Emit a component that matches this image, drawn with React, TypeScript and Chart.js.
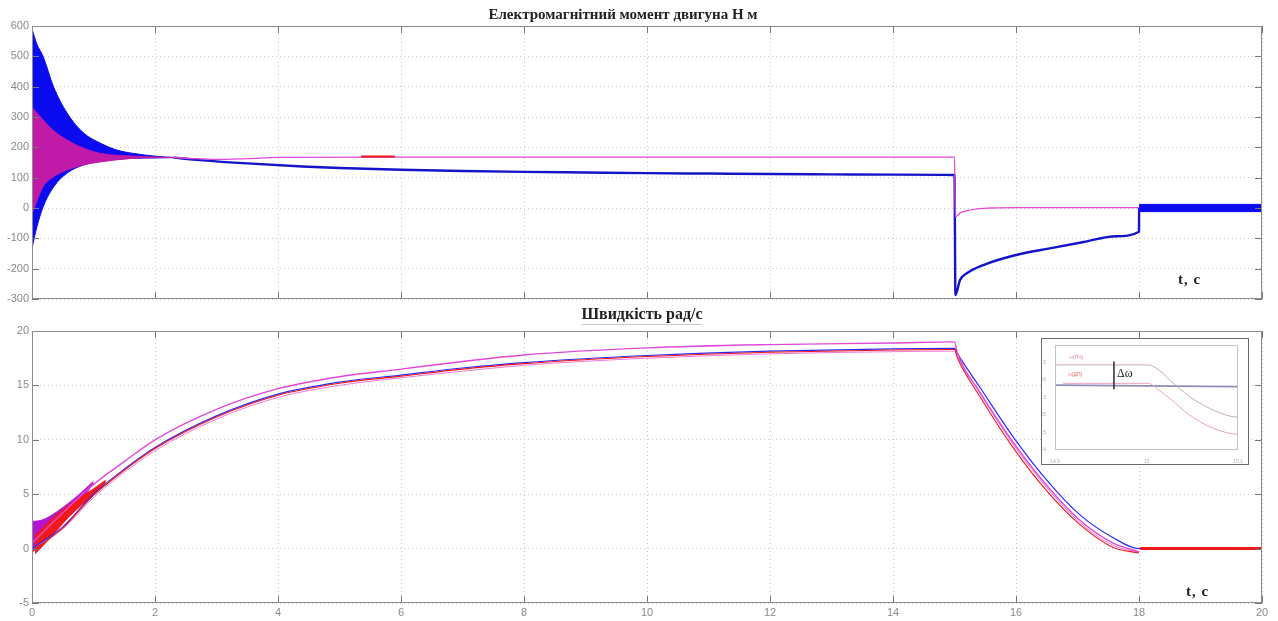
import React, { useEffect, useRef } from "react";
import { Chart, registerables } from "chart.js";
Chart.register(...registerables);

// ---------- Top plot: electromagnetic torque ----------
const torqueTitle = "Електромагнітний момент двигуна Н м";
const speedTitle = "Швидкість рад/с";
const axisLabelT = "t, с";

// blue start-up oscillation envelope
const blueEnvT = [0, 0.08, 0.18, 0.35, 0.57, 0.84, 1.11, 1.38, 1.65, 2.0, 2.3];
const blueEnvUpper = [590, 540, 500, 400, 313, 247, 214, 191, 180, 171, 166];
const blueEnvLower = [-133, -62, 3, 69, 115, 142, 156, 161, 164, 165, 166];
// magenta start-up oscillation envelope
const magEnvT = [0, 0.18, 0.35, 0.57, 0.84, 1.11, 1.65, 2.0, 2.3];
const magEnvUpper = [333, 290, 255, 224, 197, 180, 171, 168, 167];
const magEnvLower = [-20, 70, 103, 125, 142, 152, 164, 166, 167];
// blue torque after start-up
const blueT = [2.3, 2.73, 3.5, 4.4, 5, 6, 7, 8, 9, 10, 11, 12, 13, 14, 15, 15.015, 15.09, 15.2, 15.47, 16.0, 16.55, 17.1, 17.63, 18.0, 18.002];
const blueM = [166, 158, 147, 137, 132, 126, 122, 119, 117, 115, 113.5, 112, 111, 110, 109, -287, -237, -215, -188, -155, -133, -112, -93, -78, 0];
// blue band after t = 18
const blueBandT = [18.002, 20];
const blueBandUpper = [12, 12];
const blueBandLower = [-12, -12];
// magenta torque after start-up
const magT = [2.3, 2.6, 3.0, 3.5, 4, 6, 10, 14, 15, 15.015, 15.1, 15.2, 15.4, 15.6, 16, 18, 20];
const magM = [167, 163, 160, 163, 167, 168, 168, 168, 168, -29, -15, -9, -2, 0, 1, 1, 1];
// short red trace
const redSegT = [5.35, 5.9];
const redSegM = [170, 170];

// ---------- Bottom plot: speed ----------
const riseT = [0, 0.5, 1, 1.5, 2, 3, 4, 5, 6, 7, 8, 10, 12, 14, 15];
const pinkUpRise = [0.5, 3.3, 5.9, 8.0, 10.0, 12.8, 14.7, 15.8, 16.5, 17.2, 17.8, 18.45, 18.75, 18.9, 19.0];
const blueRise = [0, 2.0, 5.0, 7.3, 9.3, 12.2, 14.2, 15.3, 15.95, 16.6, 17.1, 17.75, 18.15, 18.35, 18.4];
const redRise = [-0.3, 1.9, 4.9, 7.2, 9.2, 12.1, 14.1, 15.2, 15.85, 16.5, 17.0, 17.65, 18.05, 18.25, 18.3];
const pinkLowRise = [0, 1.8, 4.7, 7.0, 9.0, 11.9, 13.9, 15.0, 15.7, 16.3, 16.85, 17.5, 17.9, 18.1, 18.15];

const fallT = [15.05, 15.41, 15.95, 16.5, 17.04, 17.58, 18.0];
const pinkUpFall = [17.9, 14.4, 9.8, 5.8, 2.6, 0.5, -0.3];
const blueFall = [17.9, 14.85, 10.3, 6.3, 3.1, 1.0, 0];
const redFall = [17.5, 14.0, 9.3, 5.3, 2.2, 0.1, -0.4];
const pinkLowFall = [17.6, 14.3, 9.6, 5.6, 2.4, 0.3, -0.35];

const tailT = [18.02, 20];
const tailW = [0, 0];

// start-up oscillation bands
const purpleBandT = [0, 0.15, 0.3, 0.73, 1.0];
const purpleBandUpper = [2.5, 2.6, 3.0, 4.8, 6.2];
const purpleBandLower = [-0.35, 0.6, 1.5, 3.9, 6.0];
const redBandT = [0.05, 0.3, 0.6, 1.0, 1.2];
const redBandUpper = [1.2, 2.6, 4.0, 5.5, 6.3];
const redBandLower = [-0.5, 1.0, 2.9, 5.0, 6.1];

// ---------- Inset ----------
const insetUpperX = [0, 51, 57, 62.7, 73.6, 84.5, 95.5, 100];
const insetUpperY = [4.86, 4.86, 4.55, 4.0, 3.05, 2.38, 1.94, 1.87];
const insetLowerX = [4.5, 51, 57, 62.7, 73.6, 84.5, 95.5, 100];
const insetLowerY = [3.81, 3.81, 3.4, 2.95, 2.0, 1.33, 0.95, 0.9];
const insetBlueX = [0, 100];
const insetBlueY = [3.71, 3.62];
const insetDeltaX = [32.2, 32.2];
const insetDeltaY = [5.05, 3.47];
const insetXLabels: Record<number, string> = { 0: "14.9", 50: "15", 100: "15.1" };
const insetYLabels = ["14", "14.5", "15", "15.5", "16", "16.5", ""];
const insetLegend = ["ω(ПЧ)", "ω(ДП)"];

const pts = (xs: number[], ys: number[]) => xs.map((x, i) => ({ x, y: ys[i] }));

const makeFrame = (color: string, tick: number, tickColor: string) => ({
  id: "frame",
  afterDatasetsDraw(chart: any) {
    const { ctx, chartArea: a, scales } = chart;
    ctx.save();
    ctx.lineWidth = 1;
    ctx.strokeStyle = tickColor;
    const line = (x1: number, y1: number, x2: number, y2: number) => {
      ctx.beginPath();
      ctx.moveTo(x1, y1);
      ctx.lineTo(x2, y2);
      ctx.stroke();
    };
    if (tick > 0) {
      scales.x.ticks.forEach((t: any) => {
        const px = Math.round(scales.x.getPixelForValue(t.value)) + 0.5;
        line(px, a.bottom, px, a.bottom - tick);
        line(px, a.top, px, a.top + tick);
      });
      scales.y.ticks.forEach((t: any) => {
        const py = Math.round(scales.y.getPixelForValue(t.value)) + 0.5;
        line(a.left, py, a.left + tick, py);
        line(a.right, py, a.right - tick, py);
      });
    }
    ctx.strokeStyle = color;
    ctx.strokeRect(Math.round(a.left) + 0.5, Math.round(a.top) + 0.5, Math.round(a.width) - 1, Math.round(a.height) - 1);
    ctx.restore();
  },
});

const tickFont = { family: "'Liberation Sans', Arial, sans-serif", size: 11 };

function baseOptions(yMin: number, yMax: number, yStep: number, showX: boolean, padTop: number, xHeight: number) {
  return {
    animation: false,
    responsive: false,
    maintainAspectRatio: false,
    events: [],
    plugins: { legend: { display: false }, tooltip: { enabled: false }, title: { display: false } },
    elements: { point: { radius: 0 }, line: { tension: 0 } },
    layout: { padding: { top: padTop, right: 16, left: 0, bottom: 0 } },
    scales: {
      x: {
        type: "linear",
        min: 0,
        max: 20,
        ticks: { stepSize: 2, display: showX, color: "#8a8a8a", font: tickFont, padding: 3, maxRotation: 0 },
        grid: { color: "#c8c8c8", drawTicks: false },
        border: { display: false, dash: [1, 3] },
        afterFit: (s: any) => { s.height = xHeight; },
      },
      y: {
        type: "linear",
        min: yMin,
        max: yMax,
        ticks: { stepSize: yStep, color: "#8a8a8a", font: tickFont, padding: 3 },
        grid: { color: "#c8c8c8", drawTicks: false },
        border: { display: false, dash: [1, 3] },
        afterFit: (s: any) => { s.width = 32; },
      },
    },
  };
}

const BLUE = "#0b0bef";
const MAG = "#c21aa8";
const PINK = "#e048d8";
const RED = "#f01818";

export default function App() {
  const topRef = useRef<HTMLCanvasElement>(null);
  const botRef = useRef<HTMLCanvasElement>(null);
  const insRef = useRef<HTMLCanvasElement>(null);

  useEffect(() => {
    const line = (data: any, color: string, width: number, extra: any = {}) => ({
      data,
      borderColor: color,
      backgroundColor: color,
      borderWidth: width,
      pointRadius: 0,
      fill: false,
      cubicInterpolationMode: "monotone",
      ...extra,
    });

    const top = new Chart(topRef.current!, {
      type: "line",
      data: {
        datasets: [
          line(pts(blueBandT, blueBandUpper), BLUE, 1, { fill: "+1" }),
          line(pts(blueBandT, blueBandLower), BLUE, 1),
          line(pts(redSegT, redSegM), RED, 2),
          line(pts(magT, magM), PINK, 1.3),
          line(pts(magEnvT, magEnvUpper), MAG, 1, { fill: "+1" }),
          line(pts(magEnvT, magEnvLower), MAG, 1),
          line(pts(blueT, blueM), "#1414c8", 2.4),
          line(pts(blueEnvT, blueEnvUpper), BLUE, 1, { fill: "+1" }),
          line(pts(blueEnvT, blueEnvLower), BLUE, 1),
        ],
      },
      options: baseOptions(-300, 600, 100, false, 26, 11) as any,
      plugins: [makeFrame("#8c8c8c", 7, "#777")],
    });

    const bot = new Chart(botRef.current!, {
      type: "line",
      data: {
        datasets: [
          line(pts(tailT, tailW), RED, 3),
          line([...pts(riseT, pinkUpRise), ...pts(fallT, pinkUpFall)], PINK, 1.4),
          line([...pts(riseT, redRise), ...pts(fallT, redFall)], RED, 1.1),
          line([...pts(riseT, blueRise), ...pts(fallT, blueFall), ...pts(tailT, tailW)], "#2a2aff", 1.2),
          line([...pts(riseT, pinkLowRise), ...pts(fallT, pinkLowFall)], "#f07ad8", 1),
          line(pts(redBandT, redBandUpper), RED, 0.8, { fill: "+1" }),
          line(pts(redBandT, redBandLower), RED, 0.8),
          line(pts(purpleBandT, purpleBandUpper), "#b414d2", 1, { fill: "+1" }),
          line(pts(purpleBandT, purpleBandLower), "#b414d2", 1),
        ],
      },
      options: baseOptions(-5, 20, 5, true, 21, 18) as any,
      plugins: [makeFrame("#8c8c8c", 7, "#777")],
    });

    const tiny = { family: "'Liberation Sans', Arial, sans-serif", size: 5 };
    const ins = new Chart(insRef.current!, {
      type: "line",
      data: {
        datasets: [
          line(pts(insetDeltaX, insetDeltaY), "#333", 0.8, { cubicInterpolationMode: "default" }),
          line(pts(insetUpperX, insetUpperY), "#c9a7bf", 1),
          line(pts(insetLowerX, insetLowerY), "#eaa0c6", 1),
          line(pts(insetBlueX, insetBlueY), "#8d8fb8", 1.6),
        ],
      },
      options: {
        animation: false,
        responsive: false,
        maintainAspectRatio: false,
        events: [],
        plugins: { legend: { display: false }, tooltip: { enabled: false } },
        elements: { point: { radius: 0 } },
        layout: { padding: { top: 6, right: 10, left: 0, bottom: 0 } },
        scales: {
          x: {
            type: "linear", min: 0, max: 100,
            ticks: { stepSize: 50, color: "#b0b0b0", font: tiny, padding: 1, maxRotation: 0, callback: (v: any) => insetXLabels[v] ?? "" },
            grid: { display: false },
            border: { display: false },
            afterFit: (s: any) => { s.height = 14; },
          },
          y: {
            type: "linear", min: 0, max: 6,
            ticks: { stepSize: 1, color: "#b0b0b0", font: tiny, padding: 1, callback: (v: any) => insetYLabels[v] ?? "" },
            grid: { display: false },
            border: { display: false },
            afterFit: (s: any) => { s.width = 13; },
          },
        },
      } as any,
      plugins: [makeFrame("#c4c4c4", 0, "#ccc")],
    });

    return () => {
      top.destroy();
      bot.destroy();
      ins.destroy();
    };
  }, []);

  const serifBold: React.CSSProperties = {
    position: "absolute",
    fontFamily: "'Liberation Serif', 'Times New Roman', serif",
    fontWeight: "bold",
    color: "#222",
    whiteSpace: "nowrap",
  };

  return (
    <div style={{ position: "absolute", left: 0, top: 0, width: 1278, height: 621, background: "#fff", overflow: "hidden" }}>
      <canvas ref={topRef} width={1278} height={310} style={{ position: "absolute", left: 0, top: 0 }} />
      <canvas ref={botRef} width={1278} height={311} style={{ position: "absolute", left: 0, top: 310 }} />
      <div style={{ ...serifBold, fontSize: 15, left: 623, top: 5, transform: "translateX(-50%)", lineHeight: "19px" }}>{torqueTitle}</div>
      <div style={{ ...serifBold, fontSize: 16, left: 642, top: 304, transform: "translateX(-50%)", lineHeight: "20px", borderBottom: "1px solid #c8c8c8", paddingBottom: 0 }}>{speedTitle}</div>
      <div style={{ ...serifBold, fontSize: 15, left: 1178, top: 270, lineHeight: "19px", letterSpacing: 1 }}>{axisLabelT}</div>
      <div style={{ ...serifBold, fontSize: 15, left: 1186, top: 582, lineHeight: "19px", letterSpacing: 1 }}>{axisLabelT}</div>
      <div style={{ position: "absolute", left: 1041, top: 338, width: 206, height: 125, border: "1px solid #6a6a6a", background: "#fff" }}>
        <canvas ref={insRef} width={206} height={125} style={{ position: "absolute", left: 0, top: 0 }} />
        <div style={{ position: "absolute", left: 27, top: 15, fontSize: 5, color: "#e080b0", fontFamily: "'Liberation Sans', sans-serif" }}>{insetLegend[0]}</div>
        <div style={{ position: "absolute", left: 26, top: 32, fontSize: 5, color: "#e07070", fontFamily: "'Liberation Sans', sans-serif" }}>{insetLegend[1]}</div>
        <div style={{ position: "absolute", left: 75, top: 27, fontSize: 12, color: "#222", fontFamily: "'Liberation Serif', serif" }}>Δω</div>
      </div>
    </div>
  );
}
